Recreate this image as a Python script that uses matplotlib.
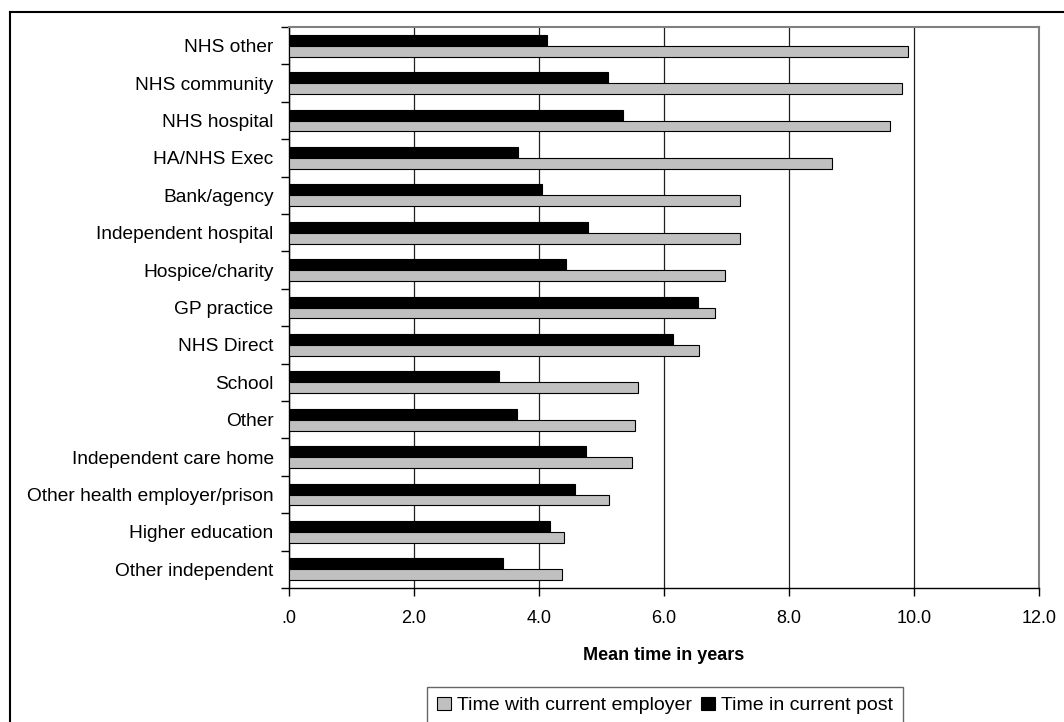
import matplotlib
matplotlib.use('Agg')
import matplotlib.pyplot as plt
import numpy as np
from matplotlib.lines import Line2D
from matplotlib.ticker import FuncFormatter

categories = ["NHS other", "NHS community", "NHS hospital", "HA/NHS Exec",
              "Bank/agency", "Independent hospital", "Hospice/charity",
              "GP practice", "NHS Direct", "School", "Other",
              "Independent care home", "Other health employer/prison",
              "Higher education", "Other independent"]
time_employer = [9.91, 9.81, 9.61, 8.69, 7.22, 7.22, 6.98, 6.81, 6.56,
                 5.59, 5.54, 5.49, 5.12, 4.40, 4.37]
time_post = [4.13, 5.10, 5.35, 3.66, 4.05, 4.78, 4.43, 6.54, 6.14,
             3.36, 3.64, 4.75, 4.57, 4.18, 3.43]

plt.rcParams['font.family'] = ['Liberation Sans', 'DejaVu Sans']
plt.rcParams['font.size'] = 13

fig = plt.figure(figsize=(10.64, 7.22), dpi=100)
ax = fig.add_axes([289 / 1064, 134 / 722, 750 / 1064, 561 / 722])

y = np.arange(len(categories))
h = 0.29
ax.barh(y - h / 2, time_post, height=h, color="black", edgecolor="black",
        linewidth=0.8, label="Time in current post", zorder=3)
ax.barh(y + h / 2, time_employer, height=h, color="#c0c0c0", edgecolor="black",
        linewidth=0.8, label="Time with current employer", zorder=3)

ax.set_ylim(len(categories) - 0.5, -0.5)
ax.set_xlim(0, 12)

# y ticks on the band edges, labels in the middle
ax.set_yticks(np.arange(len(categories) + 1) - 0.5)
ax.set_yticklabels([])
ax.set_yticks(y, minor=True)
ax.set_yticklabels(categories, minor=True)
ax.tick_params(axis="y", which="major", direction="out", length=6, width=1)
ax.tick_params(axis="y", which="minor", length=0, pad=11, labelsize=13.8)

ax.set_xticks(np.arange(0, 13, 2))
ax.xaxis.set_major_formatter(FuncFormatter(
    lambda v, p: ".0" if v == 0 else f"{v:.1f}"))
ax.tick_params(axis="x", direction="out", length=6, width=1, pad=10,
               labelsize=13)

ax.grid(axis="x", color="#202020", linewidth=0.9, zorder=0)
ax.grid(axis="y", visible=False)

for side in ["top", "right"]:
    ax.spines[side].set_color("#808080")
    ax.spines[side].set_linewidth(1.5)
for side in ["left", "bottom"]:
    ax.spines[side].set_color("black")
    ax.spines[side].set_linewidth(1)

ax.set_xlabel("Mean time in years", fontweight="bold", fontsize=13, labelpad=14)

handles, labels = ax.get_legend_handles_labels()
leg = fig.legend(handles[::-1], labels[::-1], loc="upper center",
                 bbox_to_anchor=(665 / 1064, 1 - 687 / 722),
                 ncol=2, fontsize=14, frameon=True, fancybox=False,
                 handlelength=0.7, handleheight=0.7, handletextpad=0.3,
                 columnspacing=0.5, borderpad=0.5, borderaxespad=0)
leg.get_frame().set_edgecolor("#404040")
leg.get_frame().set_linewidth(1)

# outer chart border (cropped at right and bottom)
fig.add_artist(Line2D([10 / 1064, 10 / 1064], [0, 1 - 12 / 722],
                      transform=fig.transFigure, color="black", linewidth=1.5))
fig.add_artist(Line2D([10 / 1064, 1], [1 - 12 / 722, 1 - 12 / 722],
                      transform=fig.transFigure, color="black", linewidth=1.5))

plt.savefig("out.png", dpi=100)
print("Saved: out.png")
